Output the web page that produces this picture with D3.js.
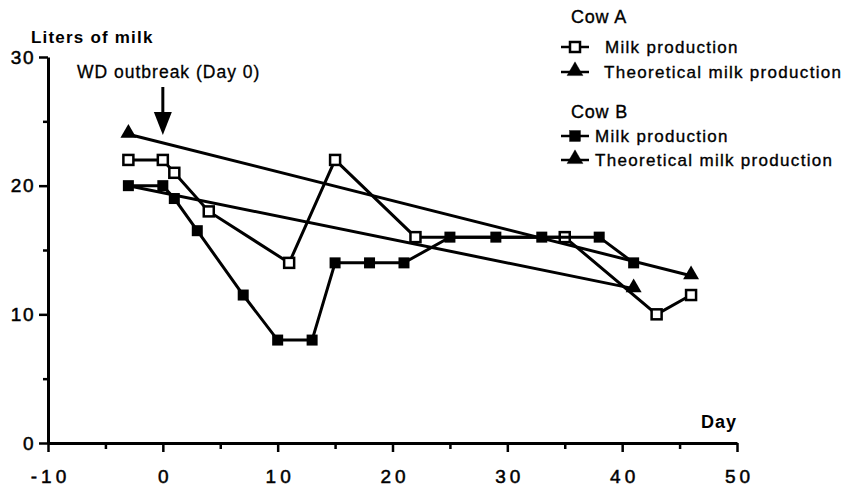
<!DOCTYPE html>
<html>
<head>
<meta charset="utf-8">
<script src="https://cdn.jsdelivr.net/npm/d3@7"></script>
<style>
  body { margin: 0; background: #fff; }
  svg { font-family: "Liberation Sans", Arial, sans-serif; }
</style>
</head>
<body>
<svg id="chart" width="846" height="486"></svg>
<script>
// days and liters
const cowAMilk = [
  { day: -3, liters: 22 }, { day: 0, liters: 22 }, { day: 1, liters: 21 },
  { day: 4, liters: 18 }, { day: 11, liters: 14 }, { day: 15, liters: 22 },
  { day: 22, liters: 16 }, { day: 35, liters: 16 }, { day: 43, liters: 10 },
  { day: 46, liters: 11.5 }
];
const cowBMilk = [
  { day: -3, liters: 20 }, { day: 0, liters: 20 }, { day: 1, liters: 19 },
  { day: 3, liters: 16.5 }, { day: 7, liters: 11.5 }, { day: 10, liters: 8 },
  { day: 13, liters: 8 }, { day: 15, liters: 14 }, { day: 18, liters: 14 },
  { day: 21, liters: 14 }, { day: 25, liters: 16 }, { day: 29, liters: 16 },
  { day: 33, liters: 16 }, { day: 38, liters: 16 }, { day: 41, liters: 14 }
];
// theoretical lines: start and end; cow B's start marker sits under a square
const cowATheory = [{ day: -3, liters: 24, mark: true }, { day: 46, liters: 13, mark: true }];
const cowBTheory = [{ day: -3, liters: 20, mark: false }, { day: 41, liters: 12, mark: true }];

const xMajor = [-10, 0, 10, 20, 30, 40, 50];
const xMinor = [-5, 5, 15, 25, 35, 45];
const yMajor = [0, 10, 20, 30];
const yMinor = [5, 15, 25];
const outbreakDay = 0;

const svg = d3.select("#chart");
const x = d3.scaleLinear().domain([-10, 50]).range([48, 737]);
const y = d3.scaleLinear().domain([0, 30]).range([443, 57]);

// axes
const axisStyle = g => {
  g.select(".domain").attr("stroke-width", 3);
  g.selectAll(".tick line").attr("stroke-width", 2.5);
  g.selectAll(".tick text")
    .attr("font-size", 19)
    .attr("fill", "#000")
    .attr("stroke", "#000")
    .attr("stroke-width", 0.5);
};

svg.append("g")
  .attr("transform", `translate(0,${y(0)})`)
  .call(d3.axisBottom(x).tickValues(xMinor).tickSize(6).tickFormat("").tickSizeOuter(0))
  .call(g => g.select(".domain").remove())
  .call(g => g.selectAll(".tick line").attr("stroke-width", 2.5));
svg.append("g")
  .attr("transform", `translate(0,${y(0)})`)
  .call(d3.axisBottom(x).tickValues(xMajor).tickSize(9).tickPadding(18)
    .tickFormat(d => String(d)).tickSizeOuter(0))
  .call(axisStyle)
  .call(g => g.selectAll(".tick text").attr("letter-spacing", 4).attr("dx", 2));

svg.append("g")
  .attr("transform", `translate(${x(-10)},0)`)
  .call(d3.axisLeft(y).tickValues(yMinor).tickSize(5).tickFormat("").tickSizeOuter(0))
  .call(g => g.select(".domain").remove())
  .call(g => g.selectAll(".tick line").attr("stroke-width", 2.5));
svg.append("g")
  .attr("transform", `translate(${x(-10)},0)`)
  .call(d3.axisLeft(y).tickValues(yMajor).tickSize(9).tickPadding(4).tickSizeOuter(0))
  .call(axisStyle)
  .call(g => g.selectAll(".tick text").attr("letter-spacing", 1.5));

svg.append("text")
  .attr("x", 31).attr("y", 43)
  .attr("font-size", 17).attr("font-weight", "bold").attr("letter-spacing", 1.2)
  .text("Liters of milk");
svg.append("text")
  .attr("x", 701).attr("y", 428)
  .attr("font-size", 18).attr("font-weight", "bold").attr("letter-spacing", 1)
  .text("Day");

// outbreak annotation
svg.append("text")
  .attr("x", 77).attr("y", 78)
  .attr("font-size", 17.5).attr("letter-spacing", 1)
  .attr("stroke", "#000").attr("stroke-width", 0.3)
  .text("WD outbreak (Day 0)");
svg.append("line")
  .attr("x1", x(outbreakDay)).attr("x2", x(outbreakDay))
  .attr("y1", 87).attr("y2", 118)
  .attr("stroke", "#000").attr("stroke-width", 3);
svg.append("path")
  .attr("d", `M${x(outbreakDay) - 9},112 L${x(outbreakDay) + 9},112 L${x(outbreakDay)},135 Z`)
  .attr("fill", "#000");

const line = d3.line().x(d => x(d.day)).y(d => y(d.liters));
const tri = d3.symbol().type(d3.symbolTriangle).size(110);
const triSmall = d3.symbol().type(d3.symbolTriangle).size(80);

function drawSeries(data, marker) {
  svg.append("path")
    .datum(data)
    .attr("d", line)
    .attr("fill", "none")
    .attr("stroke", "#000")
    .attr("stroke-width", 3);
  const g = svg.append("g");
  data.filter(d => d.mark !== false).forEach(d => marker(g, x(d.day), y(d.liters)));
}

const openSquare = (g, cx, cy) => g.append("rect")
  .attr("x", cx - 5).attr("y", cy - 5).attr("width", 10).attr("height", 10)
  .attr("fill", "#fff").attr("stroke", "#000").attr("stroke-width", 2.5);
const filledSquare = (g, cx, cy) => g.append("rect")
  .attr("x", cx - 5.5).attr("y", cy - 5.5).attr("width", 11).attr("height", 11)
  .attr("fill", "#000");
const triangle = (g, cx, cy) => g.append("path")
  .attr("d", tri())
  .attr("transform", `translate(${cx},${cy - 1})`)
  .attr("fill", "#000");

drawSeries(cowATheory, triangle);
drawSeries(cowBTheory, triangle);
drawSeries(cowAMilk, openSquare);
drawSeries(cowBMilk, filledSquare);

// legend
const legend = svg.append("g")
  .attr("font-size", 17).attr("letter-spacing", 1.3)
  .attr("stroke", "#000").attr("stroke-width", 0.35);
const legendItems = [
  { head: "Cow A", headY: 23 },
  { label: "Milk production", y: 47, tx: 605, marker: openSquare },
  { label: "Theoretical milk production", y: 72, tx: 604, marker: triangle },
  { head: "Cow B", headY: 118 },
  { label: "Milk production", y: 136, tx: 595, marker: filledSquare },
  { label: "Theoretical milk production", y: 160, tx: 595, marker: triangle }
];
legendItems.forEach(it => {
  if (it.head) {
    legend.append("text").attr("x", 571).attr("y", it.headY)
      .attr("font-size", 18).attr("letter-spacing", 0.8).text(it.head);
    return;
  }
  legend.append("line")
    .attr("x1", 561).attr("x2", 589).attr("y1", it.y).attr("y2", it.y)
    .attr("stroke", "#000").attr("stroke-width", 2.5);
  it.marker(legend, 575, it.y);
  legend.append("text").attr("x", it.tx).attr("y", it.y + 6).text(it.label);
});
</script>
</body>
</html>
